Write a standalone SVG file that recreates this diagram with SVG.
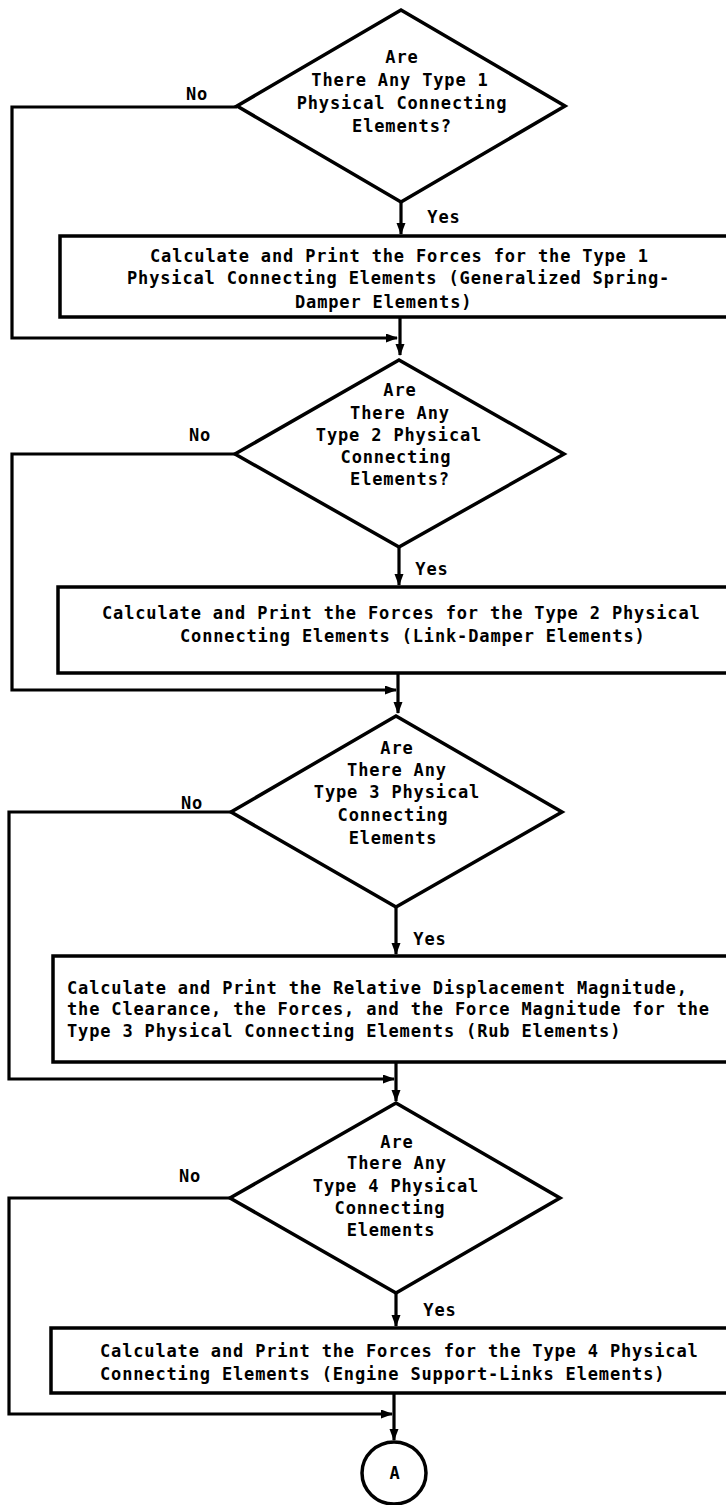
<svg xmlns="http://www.w3.org/2000/svg" width="726" height="1505" viewBox="0 0 726 1505">
<style>
.shape{fill:#fff;stroke:#000;stroke-width:3.5;stroke-linejoin:miter}
.line{fill:none;stroke:#000;stroke-width:3.2}
text{font-family:"DejaVu Sans Mono","Liberation Mono",monospace;font-weight:bold;font-size:17px;letter-spacing:0.85px;fill:#000}
.c{text-anchor:middle}
</style>
<defs>
<marker id="ah" markerUnits="userSpaceOnUse" markerWidth="12" markerHeight="10" refX="11" refY="4.5" orient="auto">
<path d="M0,0 L12,4.5 L0,9 z" fill="#000"/>
</marker>
</defs>
<rect width="726" height="1505" fill="#fff"/>
<g id="connectors">
<path class="line" d="M237,107 H12 V338 H397" marker-end="url(#ah)"/>
<path class="line" d="M401,202 V234" marker-end="url(#ah)"/>
<path class="line" d="M400,317 V355" marker-end="url(#ah)"/>
<path class="line" d="M235,454 H12 V690 H396" marker-end="url(#ah)"/>
<path class="line" d="M399,547 V585" marker-end="url(#ah)"/>
<path class="line" d="M398,673 V713" marker-end="url(#ah)"/>
<path class="line" d="M231,812 H9 V1079 H394" marker-end="url(#ah)"/>
<path class="line" d="M396,907 V954" marker-end="url(#ah)"/>
<path class="line" d="M396,1062 V1101" marker-end="url(#ah)"/>
<path class="line" d="M230,1198 H9 V1414 H392" marker-end="url(#ah)"/>
<path class="line" d="M396,1293 V1326" marker-end="url(#ah)"/>
<path class="line" d="M394,1393 V1440" marker-end="url(#ah)"/>
<text class="c" x="197" y="100">No</text>
<text class="c" x="444" y="223">Yes</text>
<text class="c" x="200" y="441">No</text>
<text class="c" x="432" y="575">Yes</text>
<text class="c" x="192" y="809">No</text>
<text class="c" x="430" y="945">Yes</text>
<text class="c" x="190" y="1182">No</text>
<text class="c" x="440" y="1316">Yes</text>
</g>
<g id="d1">
<polygon class="shape" points="401,10 565,106 401,202 237,106"/>
<text class="c" x="402" y="63">Are</text>
<text class="c" x="400" y="86">There Any Type 1</text>
<text class="c" x="402" y="109">Physical Connecting</text>
<text class="c" x="402" y="132">Elements?</text>
</g>
<g id="b1">
<rect class="shape" x="60" y="236" width="700" height="81"/>
<text x="150" y="262">Calculate and Print the Forces for the Type 1</text>
<text x="127" y="284">Physical Connecting Elements (Generalized Spring-</text>
<text x="295" y="308">Damper Elements)</text>
</g>
<g id="d2">
<polygon class="shape" points="399,360 564,454 399,547 235,454"/>
<text class="c" x="400" y="396">Are</text>
<text class="c" x="400" y="419">There Any</text>
<text class="c" x="399" y="441">Type 2 Physical</text>
<text class="c" x="396" y="463">Connecting</text>
<text class="c" x="400" y="485">Elements?</text>
</g>
<g id="b2">
<rect class="shape" x="58" y="587" width="700" height="86"/>
<text x="102" y="619">Calculate and Print the Forces for the Type 2 Physical</text>
<text x="180" y="642">Connecting Elements (Link-Damper Elements)</text>
</g>
<g id="d3">
<polygon class="shape" points="396,716 562,812 396,907 231,812"/>
<text class="c" x="397" y="754">Are</text>
<text class="c" x="397" y="776">There Any</text>
<text class="c" x="397" y="798">Type 3 Physical</text>
<text class="c" x="393" y="821">Connecting</text>
<text class="c" x="393" y="844">Elements</text>
</g>
<g id="b3">
<rect class="shape" x="53" y="956" width="700" height="106"/>
<text x="67" y="994">Calculate and Print the Relative Displacement Magnitude,</text>
<text x="67" y="1015">the Clearance, the Forces, and the Force Magnitude for the</text>
<text x="67" y="1037">Type 3 Physical Connecting Elements (Rub Elements)</text>
</g>
<g id="d4">
<polygon class="shape" points="396,1103 560,1198 396,1293 230,1198"/>
<text class="c" x="397" y="1148">Are</text>
<text class="c" x="397" y="1169">There Any</text>
<text class="c" x="396" y="1192">Type 4 Physical</text>
<text class="c" x="390" y="1214">Connecting</text>
<text class="c" x="391" y="1236">Elements</text>
</g>
<g id="b4">
<rect class="shape" x="51" y="1328" width="700" height="65"/>
<text x="100" y="1357">Calculate and Print the Forces for the Type 4 Physical</text>
<text x="100" y="1380">Connecting Elements (Engine Support-Links Elements)</text>
</g>
<g id="a">
<ellipse class="shape" cx="394" cy="1473" rx="32" ry="31"/>
<text class="c" x="395" y="1479">A</text>
</g>
</svg>
